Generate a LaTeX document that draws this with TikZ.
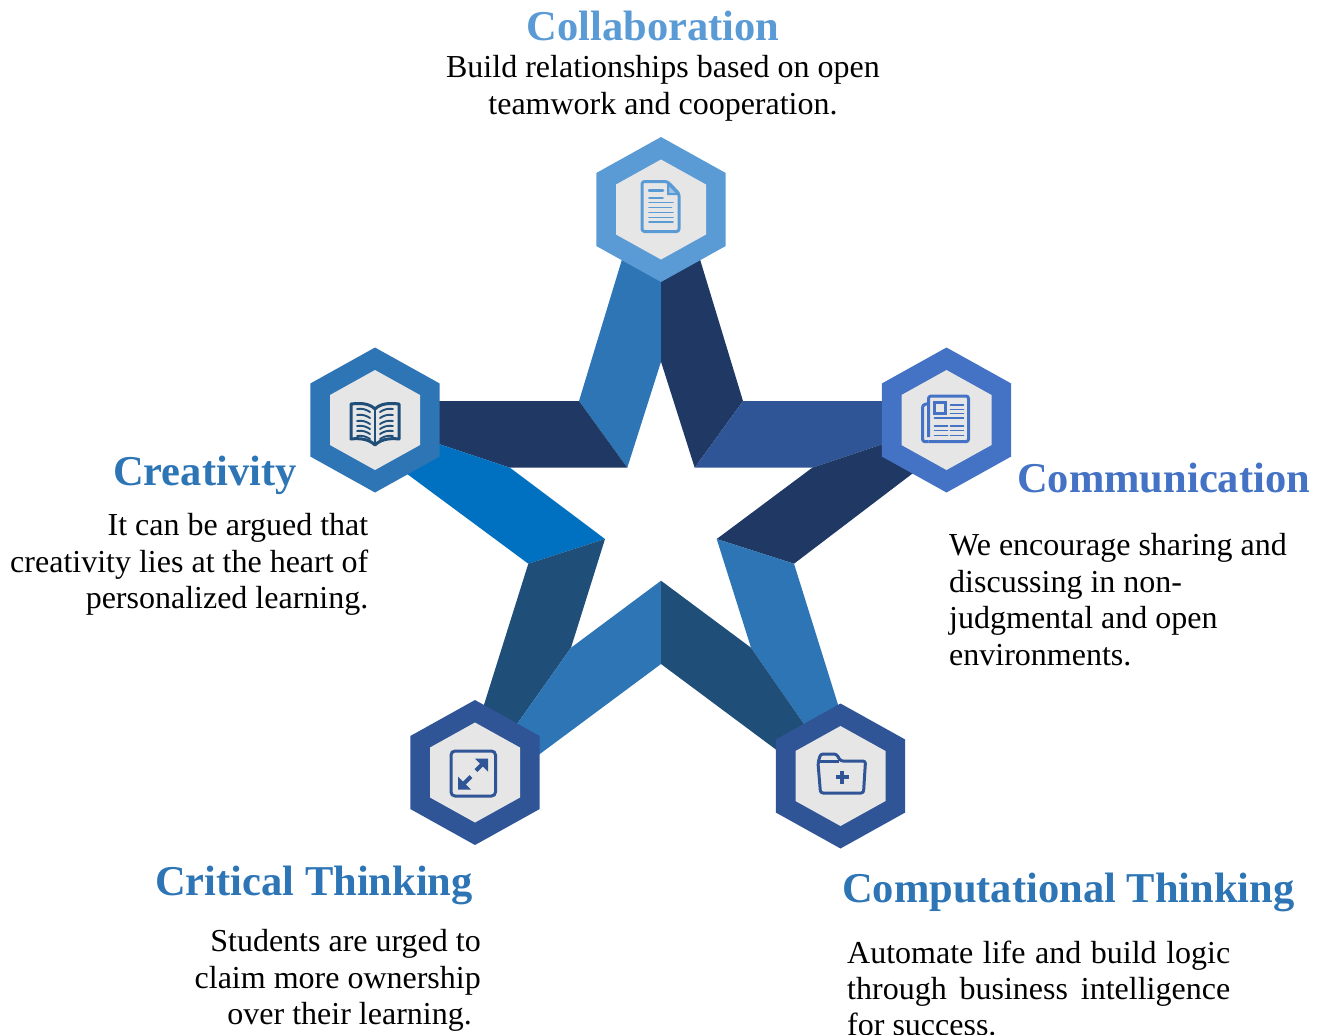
\documentclass[tikz,border=0pt]{standalone}
\usepackage{fontspec}
\setmainfont{Liberation Serif}
\usetikzlibrary{calc, positioning}
\definecolor{SkyBlue}{HTML}{5B9BD5}
\definecolor{RoyalBlue}{HTML}{4472C4}
\definecolor{SteelBlue}{HTML}{2E75B6}
\definecolor{DeepBlue}{HTML}{2F5597}
\definecolor{NavyBlue}{HTML}{1F3864}
\definecolor{BrightBlue}{HTML}{0070C0}
\definecolor{TealBlue}{HTML}{1F4E79}
\definecolor{PaleGray}{HTML}{E7E6E6}
\tikzset{
    heading/.style={inner sep=0pt, font=\fontsize{42.5}{48}\selectfont\bfseries},
    bodytext/.style={inner sep=0pt, text=black, font=\fontsize{32}{36.7}\selectfont},
    iconline/.style={line width=1.9pt, line cap=round},
    iconedge/.style={line width=3pt, rounded corners=2.5pt, line join=round}
}
% hexagon badge: name, centre, colour
\newcommand{\hexbadge}[3]{
    \coordinate (#1) at (#2);
    \fill[#3] ($(#1)+(0,-72.5)$) -- ++(64.7,36) -- ++(0,73) -- ++(-64.7,36) -- ++(-64.7,-36) -- ++(0,-73) -- cycle;
    \fill[PaleGray] ($(#1)+(0,-50)$) -- ++(45,25) -- ++(0,50) -- ++(-45,25) -- ++(-45,-25) -- ++(0,-50) -- cycle;
}
\begin{document}
\begin{tikzpicture}[x=1pt, y=-1pt]
\useasboundingbox (0,0) rectangle (1322,1034);

% inner tips of the star
\coordinate (tipT) at (661,361.7);
\coordinate (tipTL) at (627.3,467.7);
\coordinate (tipTR) at (694.7,467.7);
\coordinate (tipL) at (605,539);
\coordinate (tipR) at (716.7,539);
\coordinate (tipB) at (661,580.7);
\coordinate (tipBL) at (571,647.7);
\coordinate (tipBR) at (751,647.7);
% folds on the outer side
\coordinate (foldTL) at (579,401);
\coordinate (foldTR) at (743,401);
\coordinate (foldL) at (510,467.7);
\coordinate (foldR) at (812.3,467.7);
\coordinate (foldBL) at (528.3,563.7);
\coordinate (foldBR) at (794,563.7);
\coordinate (foldB) at (661,664);

% arms
\fill[SteelBlue] (tipT) -- (tipTL) -- (foldTL) -- (630,233) -- (661,233) -- cycle;
\fill[NavyBlue] (tipT) -- (tipTR) -- (foldTR) -- (692,233) -- (661,233) -- cycle;
\fill[NavyBlue] (tipTL) -- (foldL) -- (400,431) -- (400,401) -- (foldTL) -- cycle;
\fill[DeepBlue] (tipTR) -- (foldR) -- (922,431) -- (922,401) -- (foldTR) -- cycle;
\fill[BrightBlue] (tipL) -- (foldL) -- (400,431) -- (395,465) -- (foldBL) -- cycle;
\fill[NavyBlue] (tipR) -- (foldR) -- (922,431) -- (925,464) -- (foldBR) -- cycle;
\fill[TealBlue] (tipL) -- (foldBL) -- (477,727) -- (505,741) -- (tipBL) -- cycle;
\fill[SteelBlue] (tipR) -- (foldBR) -- (845,727) -- (815,740) -- (tipBR) -- cycle;
\fill[SteelBlue] (tipB) -- (tipBL) -- (505,741) -- (525,765) -- (foldB) -- cycle;
\fill[TealBlue] (tipB) -- (tipBR) -- (815,740) -- (790,760) -- (foldB) -- cycle;

% badges
\hexbadge{collab}{661,209.5}{SkyBlue}
\hexbadge{comm}{946.5,420}{RoyalBlue}
\hexbadge{creative}{375,420}{SteelBlue}
\hexbadge{critical}{475,772.5}{DeepBlue}
\hexbadge{computing}{840.5,776}{DeepBlue}

% document icon
\begin{scope}[shift={(collab)}, draw=SkyBlue]
\draw[iconedge] (6.3,-28) -- (-19,-28) -- (-19,22) -- (18,22) -- (18,-16) -- cycle;
\draw[line width=2pt, fill=SkyBlue!60] (7,-26) -- (7,-15.5) -- (17,-15.5) -- cycle;
\draw[line width=2.5pt, line cap=round] (-12,-19) -- (2,-19);
\draw[iconline] (-12,-11.5) -- (2,-11.5);
\foreach \y/\e in {-7/12,-2/10.5,3/12,8/12,12.5/12}
    \draw[iconline] (-12,\y) -- (\e,\y);
\end{scope}

% newspaper icon
\begin{scope}[shift={(comm)}, draw=RoyalBlue]
\draw[iconedge] (-18,21.7) -- (22,21.7) -- (22,-24) -- (-18,-24) -- (-18,17);
\draw[iconedge] (-18,-16.5) -- (-24,-15) -- (-24,21.7) -- (-18,21.7);
\draw[line width=3pt] (-12,-18) rectangle (-1,-7);
\foreach \y in {-15,-10.5,-6.5} \draw[iconline] (4,\y) -- (17,\y);
\draw[iconline] (-12,-1.7) -- (17,-1.7);
\foreach \y in {6,10.5,15.5} {
    \draw[iconline] (-12,\y) -- (1,\y);
    \draw[iconline] (4,\y) -- (17,\y);
}
\end{scope}

% book icon
\begin{scope}[shift={(creative)}, draw=TealBlue]
\draw[line width=3pt, line join=round] (0,-11) .. controls (-6,-17) and (-15,-17) .. (-24,-16)
    -- (-24,19) .. controls (-15,18) and (-6,19) .. (0,25)
    .. controls (6,19) and (15,18) .. (24,19) -- (24,-16)
    .. controls (15,-17) and (6,-17) .. (0,-11) -- cycle;
\draw[line width=2pt] (0,-11) -- (0,23);
\foreach \y in {-10,-4,2,7,12,17} {
    \draw[iconline] (-18,\y-1) .. controls (-12,\y-2) and (-8,\y) .. (-5,\y+2);
    \draw[iconline] (18,\y-1) .. controls (12,\y-2) and (8,\y) .. (5,\y+2);
}
\end{scope}

% expand icon
\begin{scope}[shift={(critical)}, draw=DeepBlue, fill=DeepBlue]
\draw[line width=3pt, rounded corners=4pt, fill=none] (-24,-21.5) rectangle (20.5,23.5);
\draw[line width=4pt] (1,-2) -- (9,-10);
\fill (13,-14) -- (13,-1) -- (0,-14) -- cycle;
\draw[line width=4pt] (-4,4) -- (-12,12);
\fill (-17,17) -- (-17,4) -- (-4,17) -- cycle;
\end{scope}

% folder icon
\begin{scope}[shift={(computing)}, draw=DeepBlue]
\draw[iconedge] (-22.5,-13) -- (-20,-22) -- (-4,-22) -- (0,-15) -- (25,-15) -- (23,17) -- (-20,17) -- cycle;
\draw[line width=2.5pt] (-22,-14.5) -- (-2,-14.5);
\draw[line width=3.5pt] (1.5,-5.5) -- (1.5,7.5);
\draw[line width=3.5pt] (-5,1) -- (8,1);
\end{scope}

% texts
\node[heading, text=SkyBlue, anchor=base] (collabhead) at (653,40) {Collaboration};
\node[bodytext, align=center, anchor=north] (collabtext) at (663,55) {Build relationships based on open\\teamwork and cooperation.};
\node[heading, text=SteelBlue, anchor=base west] (creativehead) at (113,485) {Creativity};
\node[bodytext, align=right, anchor=north east] (creativetext) at (368.5,513) {It can be argued that\\creativity lies at the heart of\\personalized learning.};
\node[heading, text=RoyalBlue, anchor=base west] (commhead) at (1017,492) {Communication};
\node[bodytext, align=left, anchor=north west] (commtext) at (949,533) {We encourage sharing and\\discussing in non-\\judgmental and open\\environments.};
\node[heading, text=SteelBlue, anchor=base west] (criticalhead) at (155,895) {Critical Thinking};
\node[bodytext, align=right, anchor=north east] (criticaltext) at (481,929) {Students are urged to\\claim more ownership\\over their learning.\hspace*{9pt}};
\node[heading, text=SteelBlue, anchor=base west] (computinghead) at (842,902) {Computational Thinking};
\node[bodytext, align=left, anchor=north west, font=\fontsize{32}{35.8}\selectfont] (computingtext) at (847,941) {\hbox to 383pt{Automate life and build logic}\\\hbox to 383pt{through\hfill business\hfill intelligence}\\for success.};
\end{tikzpicture}
\end{document}
